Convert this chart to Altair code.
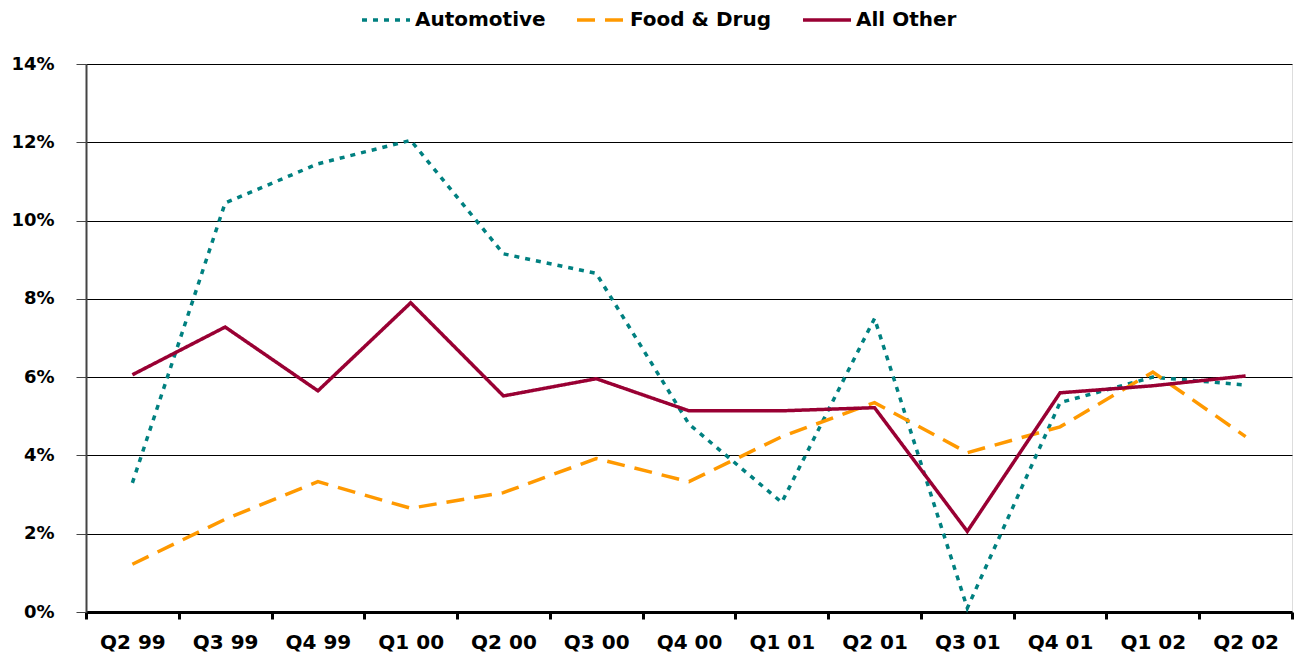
import altair as alt
import pandas as pd

quarters = ["Q2 99", "Q3 99", "Q4 99", "Q1 00", "Q2 00", "Q3 00", "Q4 00",
            "Q1 01", "Q2 01", "Q3 01", "Q4 01", "Q1 02", "Q2 02"]
automotive = [3.3, 10.45, 11.45, 12.05, 9.15, 8.65, 4.8, 2.8, 7.5, 0.1, 5.35, 6.0, 5.8]
food_drug = [1.22, 2.37, 3.33, 2.65, 3.05, 3.92, 3.33, 4.48, 5.35, 4.07, 4.73, 6.13, 4.48]
all_other = [6.06, 7.28, 5.65, 7.9, 5.52, 5.96, 5.14, 5.14, 5.22, 2.06, 5.6, 5.78, 6.03]
series_names = ["Automotive", "Food & Drug", "All Other"]
series_colors = ["#008080", "#FF9900", "#990033"]
series_dashes = [[5, 6], [18, 10], [1, 0]]
y_ticks = [0, 2, 4, 6, 8, 10, 12, 14]

rows = []
for name, vals in zip(series_names, [automotive, food_drug, all_other]):
    for q, v in zip(quarters, vals):
        rows.append({"Quarter": q, "Series": name, "Value": v})
df = pd.DataFrame(rows)

font = "DejaVu Sans"

legend_cfg = dict(title=None, orient="none", direction="horizontal",
                  legendX=274, legendY=-70,
                  symbolType="stroke", symbolSize=2304,
                  symbolStrokeWidth=3.5, labelFont=font,
                  labelFontSize=20, labelFontWeight="bold",
                  labelColor="black", columnPadding=24, labelOffset=3)

chart = alt.Chart(df).mark_line(strokeWidth=3.5).encode(
    x=alt.X("Quarter:N", sort=quarters, title=None,
            scale=alt.Scale(paddingInner=0, paddingOuter=0),
            axis=alt.Axis(labelAngle=0, tickBand="extent", domainColor="black",
                          domainWidth=3, tickColor="black", tickWidth=3, tickSize=7,
                          labelFont=font, labelFontSize=20, labelFontWeight="bold",
                          labelColor="black", labelPadding=13, grid=False)),
    y=alt.Y("Value:Q", title=None,
            scale=alt.Scale(domain=[0, 14], nice=False),
            axis=alt.Axis(values=y_ticks, labelExpr="datum.value + '%'",
                          domainColor="#444444", domainWidth=2, tickColor="#444444",
                          tickSize=10, labelFont=font, labelFontSize=18,
                          labelFontWeight="bold", labelColor="black", labelPadding=22,
                          gridColor="black", gridWidth=1)),
    color=alt.Color("Series:N", sort=series_names,
                    scale=alt.Scale(domain=series_names, range=series_colors),
                    legend=alt.Legend(**legend_cfg)),
    strokeDash=alt.StrokeDash("Series:N", sort=series_names,
                              scale=alt.Scale(domain=series_names, range=series_dashes),
                              legend=alt.Legend(**legend_cfg)),
).properties(
    width=1206, height=548,
    autosize=alt.AutoSizeParams(type="none"),
    padding={"left": 78, "top": 56, "right": 2, "bottom": 42}
).configure_view(
    stroke="#888888", strokeWidth=1
).configure(background="white")

chart.save("out.html", embed_options={"renderer": "svg", "actions": False})
